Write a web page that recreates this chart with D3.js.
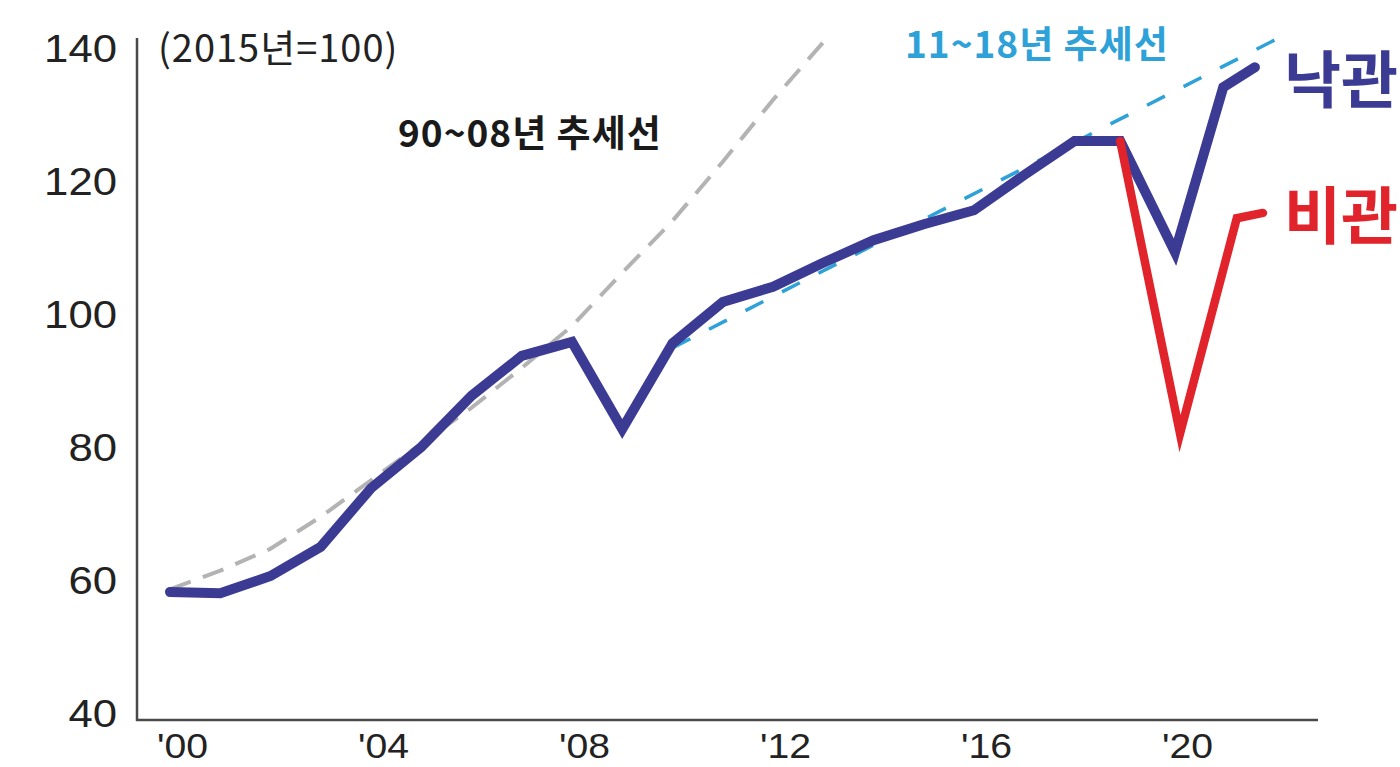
<!DOCTYPE html>
<html><head><meta charset="utf-8">
<script src="https://cdn.jsdelivr.net/npm/d3@7/dist/d3.min.js"></script>
<style>
body{margin:0;background:#fff;}
svg{display:block;}
text{font-family:"Noto Sans CJK KR","Noto Sans",sans-serif;}
</style>
</head><body>
<svg id="c" width="1400" height="767"></svg>
<script>
// ---- data ----
const xTickYears  = [2000, 2004, 2008, 2012, 2016, 2020];
const xTickLabels = ["'00", "'04", "'08", "'12", "'16", "'20"];
const yTicks      = [40, 60, 80, 100, 120, 140];

// 낙관 (optimistic) path
const optimisticYears  = [2000,2001,2002,2003,2004,2005,2006,2007,2008,2009,2010,2011,2012,2013,2014,2015,2016,2017,2018,2018.91,2020,2020.96,2021.59];
const optimisticValues = [58.2,58.0,60.6,65.0,73.8,80.0,87.7,93.7,95.8,82.7,95.6,101.8,104.1,107.7,111.1,113.5,115.6,120.9,126.0,126.0,109.3,134.1,137.1];

// 비관 (pessimistic) branch
const pessimisticYears  = [2018.91, 2020.1, 2021.23, 2021.75];
const pessimisticValues = [126.0, 82.0, 114.4, 115.2];

// 90~08년 추세선 (grey dashed)
const trend9008Years  = [2000,2001,2002,2003,2004,2005,2006,2007,2008,2009,2010,2011,2012,2013.13];
const trend9008Values = [58.6,61.4,64.7,69.5,75.0,80.5,85.9,91.9,98.2,106.2,114.0,122.9,132.2,142.0];

// 11~18년 추세선 (light-blue dashed)
const trend1118Years  = [2010, 2022.19];
const trend1118Values = [94.9, 142.0];

// ---- drawing ----
const svg = d3.select("#c");
const x = d3.scaleLinear().domain([2000, 2020]).range([170, 1175]);
const y = d3.scaleLinear().domain([40, 140]).range([713, 48]);

const C = {
  axis: "#4a4a4a", text: "#222", navy: "#3b3b94", red: "#e1232b",
  grey: "#b3b3b3", cyan: "#2ea2d8"
};
const tickFont = '"Liberation Sans","DejaVu Sans",sans-serif';

// axis frame
svg.append("line").attr("x1",137).attr("x2",137).attr("y1",38).attr("y2",721)
  .attr("stroke",C.axis).attr("stroke-width",2.5);
svg.append("line").attr("x1",136).attr("x2",1318).attr("y1",720).attr("y2",720)
  .attr("stroke",C.axis).attr("stroke-width",2.5);

// y axis labels
const gy = svg.append("g").attr("transform","translate(117,0)")
  .call(d3.axisLeft(y).tickValues(yTicks).tickSize(0).tickPadding(0));
gy.select(".domain").remove();
gy.selectAll("text").attr("x",0).attr("dy","0.36em")
  .attr("transform","scale(1.15,1)")
  .style("font-size","38px").style("font-family",tickFont)
  .attr("fill",C.text);

// x axis labels
const gx = svg.append("g").attr("transform","translate(0,720)")
  .call(d3.axisBottom(x).tickValues(xTickYears).tickFormat((d,i)=>xTickLabels[i]).tickSize(0));
gx.select(".domain").remove();
gx.selectAll("text").attr("y",38).attr("dy",0).attr("x",0)
  .attr("transform","translate(12,0) scale(1.12,1)")
  .style("font-size","35px").style("font-family",tickFont)
  .attr("fill",C.text);

const line = d3.line().x(d=>x(d[0])).y(d=>y(d[1]));
const zip = (a,b)=>a.map((v,i)=>[v,b[i]]);

// trend lines
svg.append("path").datum(zip(trend9008Years,trend9008Values))
  .attr("d",line).attr("fill","none").attr("stroke",C.grey)
  .attr("stroke-width",4).attr("stroke-dasharray","22 13");
svg.append("path").datum(zip(trend1118Years,trend1118Values))
  .attr("d",line).attr("fill","none").attr("stroke",C.cyan)
  .attr("stroke-width",3.5).attr("stroke-dasharray","20 21");

// main lines
svg.append("path").datum(zip(optimisticYears,optimisticValues))
  .attr("d",line).attr("fill","none").attr("stroke",C.navy)
  .attr("stroke-width",10).attr("stroke-linejoin","miter").attr("stroke-miterlimit",6)
  .attr("stroke-linecap","round");
svg.append("path").datum(zip(pessimisticYears,pessimisticValues))
  .attr("d",line).attr("fill","none").attr("stroke",C.red)
  .attr("stroke-width",8.5).attr("stroke-linejoin","miter").attr("stroke-miterlimit",10)
  .attr("stroke-linecap","round");

// annotations
svg.append("text").attr("x",158).attr("y",62).text("(2015년=100)")
  .style("font-size","38px").style("letter-spacing","1px").attr("fill",C.text);
svg.append("text").attr("x",398).attr("y",147).text("90~08년 추세선")
  .style("font-size","37px").style("letter-spacing","1px").style("font-weight","700").attr("fill","#1a1a1a");
svg.append("text").attr("x",905).attr("y",58).text("11~18년 추세선")
  .style("font-size","37px").style("letter-spacing","1px").style("font-weight","700").attr("fill",C.cyan);
svg.append("text").attr("x",1284).attr("y",103).text("낙관")
  .style("font-size","62px").style("font-weight","700").attr("fill",C.navy);
svg.append("text").attr("x",1284).attr("y",239).text("비관")
  .style("font-size","62px").style("font-weight","700").attr("fill",C.red);
</script>
</body></html>
